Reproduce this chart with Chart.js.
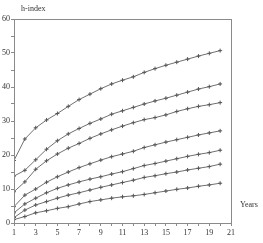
<!DOCTYPE html>
<html>
<head>
<meta charset="utf-8">
<script src="https://cdn.jsdelivr.net/npm/chart.js@4/dist/chart.umd.min.js"></script>
<style>
  html, body { margin: 0; padding: 0; background: #fff; }
  #wrap { width: 263px; height: 243px; }
</style>
</head>
<body>
<div id="wrap"><canvas id="hChart"></canvas></div>
<script>
const years = [1, 2, 3, 4, 5, 6, 7, 8, 9, 10, 11, 12, 13, 14, 15, 16, 17, 18, 19, 20];

const curve1 = [18.4, 24.7, 28.0, 30.3, 32.2, 34.3, 36.3, 37.9, 39.5, 40.9, 42.0, 43.0, 44.3, 45.4, 46.4, 47.3, 48.2, 49.1, 49.9, 50.7];
const curve2 = [13.8, 15.5, 18.6, 21.7, 24.2, 26.2, 27.8, 29.3, 30.6, 32.0, 33.0, 34.0, 35.0, 35.9, 36.7, 37.6, 38.5, 39.4, 40.1, 40.9];
const curve3 = [9.2, 12.1, 15.8, 18.3, 20.3, 22.0, 23.4, 24.9, 26.2, 27.4, 28.5, 29.5, 30.4, 31.0, 31.8, 32.8, 33.6, 34.3, 34.8, 35.4];
const curve4 = [4.8, 8.2, 10.0, 12.0, 13.6, 15.0, 16.3, 17.4, 18.5, 19.5, 20.3, 21.1, 22.2, 23.0, 23.8, 24.5, 25.2, 25.9, 26.5, 27.1];
const curve5 = [3.0, 5.6, 7.3, 8.9, 10.2, 11.2, 12.1, 12.9, 13.6, 14.4, 15.1, 16.0, 16.9, 17.5, 18.2, 18.9, 19.6, 20.2, 20.7, 21.4];
const curve6 = [1.6, 3.8, 5.3, 6.3, 7.3, 8.2, 8.9, 9.7, 10.5, 11.2, 11.9, 12.6, 13.4, 13.9, 14.5, 15.0, 15.6, 16.1, 16.6, 17.3];
const curve7 = [1.0, 1.9, 3.0, 3.6, 4.3, 4.8, 5.6, 6.3, 6.8, 7.3, 7.7, 8.0, 8.4, 8.9, 9.4, 9.9, 10.3, 10.8, 11.2, 11.7];

const curves = [curve1, curve2, curve3, curve4, curve5, curve6, curve7];
const yTitle = "h-index";
const xTitle = "Years";

const fontSpec = { family: "'Liberation Serif', 'DejaVu Serif', serif", size: 8 };

const datasets = curves.map((vals, i) => ({
  label: "curve " + (i + 1),
  data: vals.map((v, j) => ({ x: years[j], y: v })),
  borderColor: "#707070",
  borderWidth: 1,
  pointStyle: "cross",
  pointRadius: 2,
  pointBorderColor: "#555",
  pointBorderWidth: 1,
  fill: false,
  tension: 0,
}));

// box round the plot and the two axis names
const frameAndTitles = {
  id: "frameAndTitles",
  afterDraw(chart) {
    const { ctx, chartArea } = chart;
    ctx.save();
    ctx.strokeStyle = "#8a8a8a";
    ctx.lineWidth = 1;
    ctx.strokeRect(chartArea.left + 0.5, chartArea.top + 0.5,
      chartArea.right - chartArea.left, chartArea.bottom - chartArea.top);
    ctx.fillStyle = "#333";
    ctx.font = "8px 'Liberation Serif', 'DejaVu Serif', serif";
    ctx.textBaseline = "middle";
    ctx.fillText(yTitle, 21, 9);
    ctx.fillText(xTitle, 240, 205);
    ctx.restore();
  },
};

new Chart(document.getElementById("hChart"), {
  type: "line",
  data: { datasets: datasets },
  options: {
    responsive: true,
    maintainAspectRatio: false,
    animation: false,
    layout: { padding: { top: 19, right: 32, bottom: 0, left: 0 } },
    plugins: { legend: { display: false }, tooltip: { enabled: false } },
    scales: {
      x: {
        type: "linear",
        min: 1,
        max: 21,
        afterFit: (scale) => { scale.height = 20; },
        grid: { drawOnChartArea: false, tickLength: 3, color: "#8a8a8a" },
        border: { color: "#8a8a8a" },
        ticks: {
          stepSize: 1,
          autoSkip: false,
          maxRotation: 0,
          padding: 2,
          color: "#333",
          font: fontSpec,
          callback: (v) => (v % 2 === 1 ? v : ""),
        },
      },
      y: {
        min: 0,
        max: 60,
        afterFit: (scale) => { scale.width = 14; },
        grid: { drawOnChartArea: false, tickLength: 3, color: "#8a8a8a" },
        border: { color: "#8a8a8a" },
        ticks: {
          stepSize: 5,
          padding: 1,
          color: "#333",
          font: fontSpec,
          callback: (v) => (v % 10 === 0 ? v : ""),
        },
      },
    },
  },
  plugins: [frameAndTitles],
});
</script>
</body>
</html>
